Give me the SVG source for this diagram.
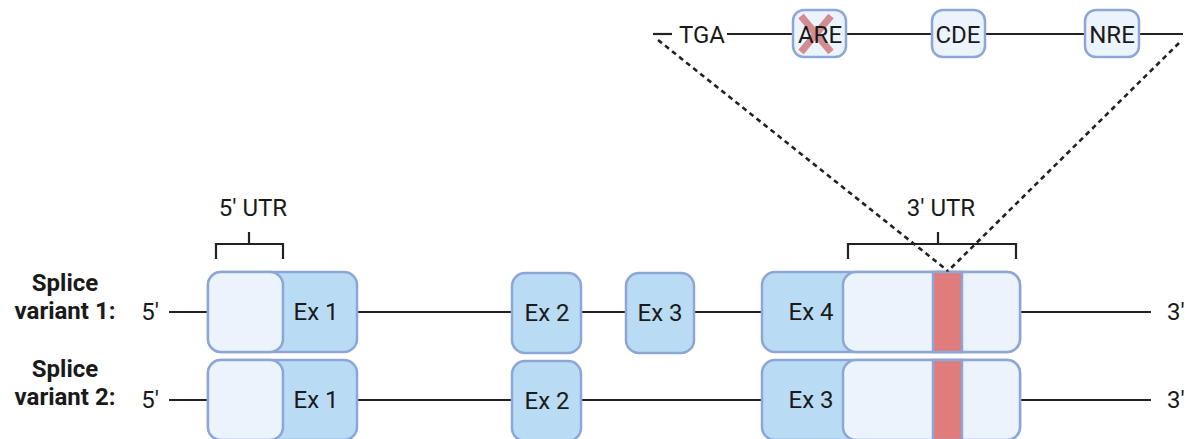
<svg xmlns="http://www.w3.org/2000/svg" width="1187" height="439" viewBox="0 0 1187 439">
<style>
text{font-family:Roboto,"Liberation Sans",sans-serif;fill:#1a1a1a}
.t{font-size:24px}
.b{font-size:24px;font-weight:bold;text-anchor:middle}
.m{text-anchor:middle}
.ln{stroke:#222;stroke-width:2.2;fill:none}
.dk{fill:#b9dcf4;stroke:#8ea6d6;stroke-width:2.5}
.lt{fill:#ebf3fc;stroke:#8ea6d6;stroke-width:2.5}
.rd{fill:#e07c7c;stroke:#8ea6d6;stroke-width:2.5}
.dash{stroke:#222;stroke-width:2.6;stroke-dasharray:5 4;fill:none}
</style>
<rect width="1187" height="439" fill="#fff"/>
<g id="connectors">
<line class="ln" x1="653" y1="34" x2="672" y2="34"/>
<line class="ln" x1="727" y1="34" x2="1183" y2="34"/>
<line class="ln" x1="169" y1="312" x2="1151" y2="312"/>
<line class="ln" x1="169" y1="400" x2="1151" y2="400"/>
<path class="ln" d="M216 259 V244 H283 V259 M249 244 V232"/>
<path class="ln" d="M848 259 V244 H1016 V259 M938 244 V232"/>
</g>
<g id="labels">
<text class="b" x="65" y="291">Splice</text>
<text class="b" x="65" y="319">variant 1:</text>
<text class="b" x="65" y="377">Splice</text>
<text class="b" x="65" y="405">variant 2:</text>
<text class="t m" x="150" y="320">5'</text>
<text class="t m" x="150" y="408">5'</text>
<text class="t" x="1167" y="320">3'</text>
<text class="t" x="1167" y="408">3'</text>
<text class="t m" x="253" y="216">5' UTR</text>
<text class="t m" x="941" y="216">3' UTR</text>
<text class="t m" x="702" y="43">TGA</text>
</g>
<g id="ex1-v1"><rect class="dk" x="208" y="272" width="149" height="80" rx="13"/><rect class="lt" x="208" y="272" width="75" height="80" rx="13"/><text class="t m" x="316" y="320">Ex 1</text></g>
<g id="ex2-v1"><rect class="dk" x="512" y="273" width="69" height="80" rx="13"/><text class="t m" x="547" y="321">Ex 2</text></g>
<g id="ex3-v1"><rect class="dk" x="626" y="273" width="68" height="80" rx="13"/><text class="t m" x="660" y="321">Ex 3</text></g>
<g id="ex4-v1"><rect class="dk" x="762" y="272" width="258" height="80" rx="13"/><rect class="lt" x="843" y="272" width="177" height="80" rx="13"/><rect class="rd" x="933" y="272" width="29" height="80"/><text class="t m" x="811" y="320">Ex 4</text></g>
<g id="ex1-v2"><rect class="dk" x="208" y="360" width="149" height="80" rx="13"/><rect class="lt" x="208" y="360" width="75" height="80" rx="13"/><text class="t m" x="316" y="408">Ex 1</text></g>
<g id="ex2-v2"><rect class="dk" x="512" y="361" width="69" height="80" rx="13"/><text class="t m" x="547" y="409">Ex 2</text></g>
<g id="ex3-v2"><rect class="dk" x="762" y="360" width="258" height="80" rx="13"/><rect class="lt" x="843" y="360" width="177" height="80" rx="13"/><rect class="rd" x="933" y="360" width="29" height="80"/><text class="t m" x="811" y="408">Ex 3</text></g>
<g id="zoom-lines">
<line class="dash" x1="658" y1="40" x2="948" y2="271"/>
<line class="dash" x1="1179" y1="43" x2="948" y2="271"/>
</g>
<g id="are"><rect class="lt" x="793" y="10" width="53" height="47" rx="11"/><path d="M801 16 L831 52 M831 16 L801 52" stroke="#d07c7c" stroke-width="7" opacity="0.85"/><text class="t m" x="820" y="43">ARE</text></g>
<g id="cde"><rect class="lt" x="932" y="10" width="53" height="47" rx="11"/><text class="t m" x="958" y="43">CDE</text></g>
<g id="nre"><rect class="lt" x="1085" y="10" width="54" height="47" rx="11"/><text class="t m" x="1112" y="43">NRE</text></g>
</svg>
